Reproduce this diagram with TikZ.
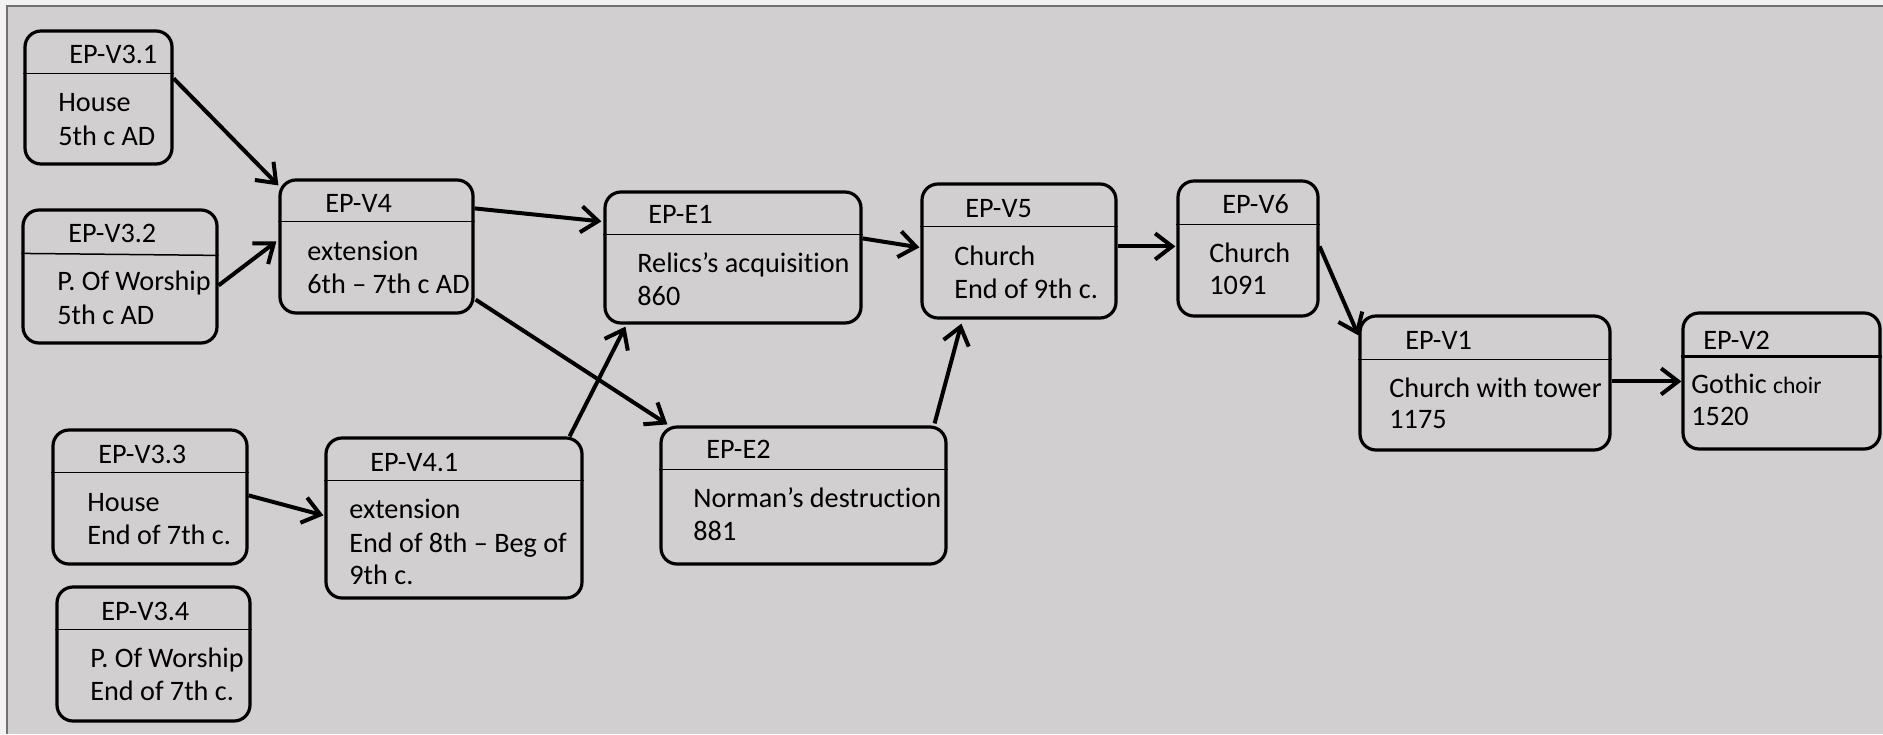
\documentclass[tikz,border=0pt]{standalone}
\usepackage{fontspec}
\setmainfont[Ligatures=NoCommon]{Carlito}
\usetikzlibrary{arrows.meta,fit,calc}
\definecolor{bgc}{RGB}{209,207,208}
\definecolor{outc}{RGB}{242,242,242}
\definecolor{framec}{RGB}{112,112,112}
\tikzset{
 box/.style={draw=black, line width=1.6pt, rounded corners=8pt, inner sep=0pt},
 hdr/.style={draw=black, line width=0.75pt},
 conn/.style={line width=2pt, -{Straight Barb[length=8.5pt,width=13pt]}},
 txt/.style={anchor=base west, inner sep=0pt, font=\fontsize{14.1}{16}\selectfont},
}
\begin{document}
\begin{tikzpicture}[x=0.5pt,y=-0.5pt]
\useasboundingbox (0,0) rectangle (1883,734);
\fill[outc] (0,0) rectangle (1883,734);
\fill[bgc] (7,6) rectangle (1883,734);
\draw[framec, line width=1.2pt] (7,734) -- (7,6) -- (1883,6);

% boxes
\node[box, fit={(25,31) (172,164)}] (v31) {};
\node[box, fit={(23,210) (217,343)}] (v32) {};
\node[box, fit={(280,180) (473,313)}] (v4) {};
\node[box, fit={(53,430) (247,564)}] (v33) {};
\node[box, fit={(57,587) (250,721)}] (v34) {};
\node[box, fit={(326,438) (582,598)}] (v41) {};
\node[box, fit={(605,192) (861,323)}] (e1) {};
\node[box, fit={(922,184) (1116,318)}] (v5) {};
\node[box, fit={(661,427) (946,564)}] (e2) {};
\node[box, fit={(1178,181) (1318,316)}] (v6) {};
\node[box, fit={(1360,316) (1610,450)}] (v1) {};
\node[box, fit={(1683,313) (1880,449)}] (v2) {};

% header lines
\draw[hdr] ($(v31.north west)+(0,44)$) -- ($(v31.north east)+(0,44)$);
\draw[hdr] ($(v32.north west)+(0,45)$) -- ($(v32.north east)+(0,47)$);
\draw[hdr] ($(v4.north west)+(0,43)$) -- ($(v4.north east)+(0,43)$);
\draw[hdr] ($(v33.north west)+(0,44)$) -- ($(v33.north east)+(0,44)$);
\draw[hdr] ($(v34.north west)+(0,44)$) -- ($(v34.north east)+(0,44)$);
\draw[hdr, line width=0.9pt] ($(v41.north west)+(0,44)$) -- ($(v41.north east)+(0,44)$);
\draw[hdr] ($(e1.north west)+(0,44)$) -- ($(e1.north east)+(0,44)$);
\draw[hdr] ($(v5.north west)+(0,44)$) -- ($(v5.north east)+(0,44)$);
\draw[hdr] ($(e2.north west)+(0,44)$) -- ($(e2.north east)+(0,44)$);
\draw[hdr] ($(v6.north west)+(0,45)$) -- ($(v6.north east)+(0,45)$);
\draw[hdr] ($(v1.north west)+(0,45)$) -- ($(v1.north east)+(0,45)$);
\draw[hdr, line width=1.2pt] ($(v2.north west)+(0,45)$) -- ($(v2.north east)+(0,45)$);

% texts
\node[txt] (v31a) at (69,63) {EP-V3.1};
\node[txt] (v31b) at (58,111) {House};
\node[txt] (v31c) at (58,145) {5th c AD};
\node[txt] (v32a) at (68,242) {EP-V3.2};
\node[txt] (v32b) at (57,290) {P. Of Worship};
\node[txt] (v32c) at (57,324) {5th c AD};
\node[txt] (v4a) at (325,212) {EP-V4};
\node[txt] (v4b) at (307,260) {extension};
\node[txt] (v4c) at (307,293) {6th – 7th c AD};
\node[txt] (v33a) at (98,463) {EP-V3.3};
\node[txt] (v33b) at (87,511) {House};
\node[txt] (v33c) at (87,544) {End of 7th c.};
\node[txt] (v34a) at (101,620) {EP-V3.4};
\node[txt] (v34b) at (90,667) {P. Of Worship};
\node[txt] (v34c) at (90,700) {End of 7th c.};
\node[txt] (v41a) at (370,471) {EP-V4.1};
\node[txt] (v41b) at (349,518) {extension};
\node[txt] (v41c) at (349,552) {End of 8th – Beg of};
\node[txt] (v41d) at (349,584) {9th c.};
\node[txt] (e1a) at (648,223) {EP-E1};
\node[txt] (e1b) at (637,272) {Relics’s acquisition};
\node[txt] (e1c) at (637,305) {860};
\node[txt] (v5a) at (965,217) {EP-V5};
\node[txt] (v5b) at (954,265) {Church};
\node[txt] (v5c) at (954,298) {End of 9th c.};
\node[txt] (e2a) at (706,458) {EP-E2};
\node[txt] (e2b) at (693,507) {Norman’s destruction};
\node[txt] (e2c) at (693,540) {881};
\node[txt] (v6a) at (1222,213) {EP-V6};
\node[txt] (v6b) at (1209,262) {Church};
\node[txt] (v6c) at (1209,294) {1091};
\node[txt] (v1a) at (1405,349) {EP-V1};
\node[txt] (v1b) at (1389,397) {Church with tower};
\node[txt] (v1c) at (1389,428) {1175};
\node[txt] (v2a) at (1703,349) {EP-V2};
\node[txt] (v2b) at (1691,393) {Gothic \fontsize{11.8}{14}\selectfont choir};
\node[txt] (v2c) at (1691,425) {1520};

% connectors
\draw[conn] ($(v31.north east)+(0,49)$) -- ($(v4.north west)+(0,7)$);
\draw[conn] ($(v32.north east)+(0,77)$) -- ($(v4.north west)+(-2,63)$);
\draw[conn] ($(v4.north east)+(0,30)$) -- ($(e1.north west)+(-2,31)$);
\draw[conn] ($(v4.south east)+(1,-15)$) -- ($(e2.north west)+(8,-1)$);
\draw[conn] ($(v41.north east)+(-14,0)$) -- ($(e1.south west)+(22,2)$);
\draw[conn] ($(v33.north east)+(0,67)$) -- ($(v41.north west)+(-1,79)$);
\draw[conn] ($(e1.north east)+(0,48)$) -- ($(v5.north west)+(-1,65)$);
\draw[conn] ($(e2.north east)+(-13,-2)$) -- ($(v5.south west)+(41,4)$);
\draw[conn] ($(v5.north east)+(0,64)$) -- ($(v6.north west)+(-1,67)$);
\draw[conn] ($(v6.north east)+(0,67)$) -- ($(v1.north west)+(0,21)$);
\draw[conn] ($(v1.north east)+(0,67)$) -- ($(v2.north west)+(0,70)$);
\end{tikzpicture}
\end{document}
